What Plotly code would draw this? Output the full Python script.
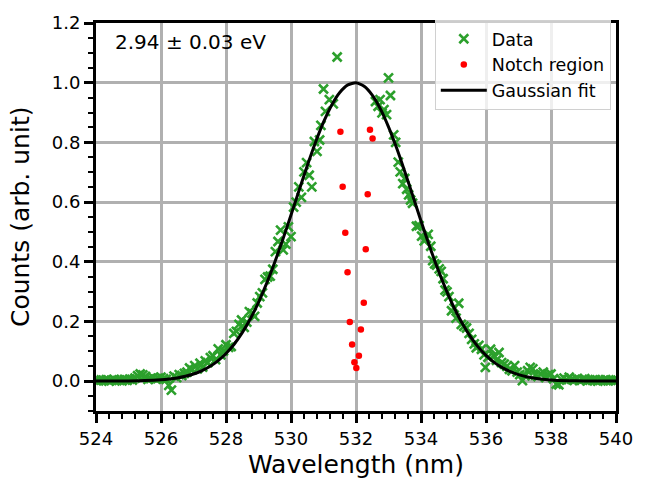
import plotly.graph_objects as go

# ---------------- data ----------------
data_wl = [
    524.00, 524.08, 524.16, 524.24, 524.32, 524.40, 524.48, 524.56, 524.64, 524.72,
    524.80, 524.88, 524.96, 525.04, 525.12, 525.20, 525.28, 525.36, 525.44, 525.52,
    525.60, 525.68, 525.76, 525.84, 525.92, 526.00, 526.08, 526.16, 526.24, 526.32,
    526.40, 526.48, 526.56, 526.64, 526.72, 526.80, 526.88, 526.96, 527.04, 527.12,
    527.20, 527.28, 527.36, 527.44, 527.52, 527.60, 527.68, 527.76, 527.84, 527.92,
    528.00, 528.08, 528.16, 528.24, 528.32, 528.40, 528.48, 528.56, 528.64, 528.72,
    528.80, 528.88, 528.96, 529.04, 529.12, 529.20, 529.28, 529.36, 529.44, 529.52,
    529.60, 529.68, 529.76, 529.84, 529.92, 530.00, 530.08, 530.16, 530.24, 530.32,
    530.40, 530.48, 530.56, 530.64, 530.72, 530.80, 530.88, 530.92, 531.00, 531.06,
    531.18, 531.30, 531.42,
    532.60, 532.68, 532.74, 532.80, 532.86, 532.94, 533.00, 533.06, 533.16, 533.22,
    533.30, 533.36, 533.44, 533.50, 533.56, 533.62, 533.68, 533.74, 533.86, 533.94,
    534.02, 534.10, 534.16, 534.22, 534.30, 534.36, 534.42, 534.48, 534.56, 534.62,
    534.68, 534.74, 534.80, 534.86, 534.94, 535.02, 535.08, 535.16, 535.24, 535.32,
    535.40, 535.48, 535.56, 535.64, 535.70, 535.78, 535.86, 535.94, 535.98, 536.06,
    536.14, 536.24, 536.32, 536.40, 536.48, 536.56, 536.64, 536.72, 536.80, 536.88,
    536.96, 537.04, 537.12, 537.20, 537.28, 537.36, 537.44, 537.52, 537.60, 537.68,
    537.76, 537.84, 537.92, 538.00, 538.08, 538.16, 538.24, 538.32, 538.40, 538.48,
    538.56, 538.64, 538.72, 538.80, 538.88, 538.96, 539.04, 539.12, 539.20, 539.28,
    539.36, 539.44, 539.52, 539.60, 539.68, 539.76, 539.84, 539.92, 540.00,
]
data_counts = [
    0.003, 0.001, 0.004, 0.002, 0.005, 0.000, 0.003, 0.006, 0.002, 0.004,
    0.001, 0.006, 0.003, 0.007, 0.004, 0.010, 0.018, 0.024, 0.021, 0.016,
    0.006, 0.009, 0.012, 0.007, 0.010, 0.013, 0.008, 0.006, -0.014, -0.030,
    0.017, 0.012, 0.022, 0.019, 0.026, 0.030, 0.044, 0.038, 0.052, 0.041,
    0.060, 0.047, 0.068, 0.062, 0.079, 0.085, 0.072, 0.108, 0.088, 0.101,
    0.122, 0.113, 0.116, 0.160, 0.167, 0.190, 0.205, 0.180, 0.198, 0.233,
    0.228, 0.217, 0.262, 0.283, 0.296, 0.341, 0.349, 0.352, 0.375, 0.434,
    0.468, 0.506, 0.440, 0.459, 0.517, 0.484, 0.583, 0.600, 0.651, 0.616,
    0.701, 0.732, 0.690, 0.651, 0.803, 0.770, 0.808, 0.857, 0.979, 0.904,
    0.943, 0.929, 1.086,
    0.937, 0.921, 0.943, 0.899, 0.910, 0.893, 1.016, 0.957, 0.825, 0.800,
    0.734, 0.701, 0.662, 0.679, 0.643, 0.624, 0.607, 0.596, 0.519, 0.521,
    0.486, 0.470, 0.478, 0.492, 0.452, 0.404, 0.393, 0.389, 0.376, 0.368,
    0.343, 0.305, 0.299, 0.283, 0.236, 0.245, 0.211, 0.261, 0.190, 0.184,
    0.178, 0.160, 0.140, 0.125, 0.112, 0.120, 0.107, 0.088, 0.046, 0.080,
    0.107, 0.085, 0.070, 0.096, 0.062, 0.057, 0.050, 0.040, 0.035, 0.052,
    0.030, 0.022, 0.002, 0.018, 0.035, 0.046, 0.041, 0.020, 0.015, 0.024,
    0.030, 0.012, 0.022, 0.024, 0.008, -0.010, -0.012, 0.005, 0.010, 0.004,
    0.013, 0.006, 0.003, 0.008, 0.002, 0.006, 0.008, 0.001, 0.004, 0.003,
    0.005, 0.000, 0.004, 0.002, 0.005, 0.001, 0.003, 0.002, 0.004,
]

notch_wl = [531.52, 531.59, 531.67, 531.74, 531.81, 531.88, 531.95, 532.01,
            532.09, 532.15, 532.24, 532.30, 532.36, 532.43, 532.51]
notch_counts = [0.836, 0.651, 0.497, 0.365, 0.198, 0.123, 0.063, 0.044,
                0.085, 0.173, 0.263, 0.442, 0.626, 0.842, 0.813]

fit_wl = [524.0, 524.5, 525.0, 525.5, 526.0, 526.25, 526.5, 526.75, 527.0, 527.25,
          527.5, 527.75, 528.0, 528.25, 528.5, 528.75, 529.0, 529.25, 529.5, 529.75,
          530.0, 530.25, 530.5, 530.75, 531.0, 531.25, 531.5, 531.75, 532.0, 532.25,
          532.5, 532.75, 533.0, 533.25, 533.5, 533.75, 534.0, 534.25, 534.5, 534.75,
          535.0, 535.25, 535.5, 535.75, 536.0, 536.25, 536.5, 536.75, 537.0, 537.25,
          537.5, 538.0, 538.5, 539.0, 539.5, 540.0]
fit_counts = [0.0001, 0.0002, 0.0007, 0.0018, 0.0046, 0.0072, 0.0109, 0.0164, 0.0240, 0.0346,
              0.0490, 0.0680, 0.0927, 0.1238, 0.1624, 0.2090, 0.2641, 0.3274, 0.3982, 0.4753,
              0.5567, 0.6398, 0.7216, 0.7988, 0.8676, 0.9247, 0.9672, 0.9927, 0.9999, 0.9882,
              0.9585, 0.9123, 0.8520, 0.7809, 0.7024, 0.6199, 0.5369, 0.4563, 0.3805, 0.3115,
              0.2501, 0.1971, 0.1524, 0.1157, 0.0862, 0.0630, 0.0452, 0.0318, 0.0219, 0.0149,
              0.0099, 0.0041, 0.0016, 0.0006, 0.0002, 0.0001]

x_ticks = [524, 526, 528, 530, 532, 534, 536, 538, 540]
y_ticks = [0.0, 0.2, 0.4, 0.6, 0.8, 1.0, 1.2]
energy_label = "2.94 ± 0.03 eV"
x_title = "Wavelength (nm)"
y_title = "Counts (arb. unit)"

FONT = "DejaVu Sans"

fig = go.Figure()
fig.add_trace(go.Scatter(
    x=data_wl, y=data_counts, mode="markers", name="Data",
    marker=dict(symbol="x-thin", size=9, color="#2ca02c",
                line=dict(color="#2ca02c", width=2.6)),
))
fig.add_trace(go.Scatter(
    x=notch_wl, y=notch_counts, mode="markers", name="Notch region",
    marker=dict(symbol="circle", size=6.5, color="#ff0000"),
))
fig.add_trace(go.Scatter(
    x=fit_wl, y=fit_counts, mode="lines", name="Gaussian fit",
    line=dict(color="black", width=3, shape="spline", smoothing=0.6),
))

fig.add_annotation(
    text=energy_label, xref="paper", yref="paper", x=0.032, y=0.95,
    xanchor="left", yanchor="middle", showarrow=False,
    font=dict(family=FONT, size=20, color="black"),
)
# axis titles
fig.add_annotation(
    text=x_title, xref="paper", yref="paper", x=0.5, y=-0.138,
    xanchor="center", yanchor="middle", showarrow=False,
    font=dict(family=FONT, size=25, color="black"),
)
fig.add_annotation(
    text=y_title, xref="paper", yref="paper", x=-0.146, y=0.5,
    xanchor="center", yanchor="middle", showarrow=False, textangle=-90,
    font=dict(family=FONT, size=25, color="black"),
)

axis_common = dict(
    showline=True, linecolor="black", linewidth=3, mirror=True,
    ticks="outside", ticklen=9, tickwidth=3, tickcolor="black",
    showgrid=True, gridcolor="#b0b0b0", gridwidth=2.5,
    zeroline=False,
    tickfont=dict(family=FONT, size=18, color="black"),
)

fig.update_xaxes(
    **axis_common,
    range=[524, 540], tickmode="array", tickvals=x_ticks,
    ticktext=[str(v) for v in x_ticks],
    minor=dict(dtick=0.4, tick0=524, ticks="outside", ticklen=5, tickwidth=2,
               tickcolor="black", showgrid=False),
)
fig.update_yaxes(
    **axis_common,
    range=[-0.1, 1.2], tickmode="array", tickvals=y_ticks,
    ticktext=[f"{v:.1f}" for v in y_ticks],
    minor=dict(dtick=0.05, tick0=0, ticks="outside", ticklen=5, tickwidth=2,
               tickcolor="black", showgrid=False),
)

fig.update_layout(
    width=645, height=484,
    margin=dict(l=96, r=23, t=17, b=73, pad=0),
    paper_bgcolor="white", plot_bgcolor="white",
    font=dict(family=FONT, color="black"),
    showlegend=True,
    legend=dict(
        x=0.99, y=1.008, xanchor="right", yanchor="top",
        bgcolor="rgba(255,255,255,0.8)", bordercolor="#d0d0d0", borderwidth=1,
        font=dict(family=FONT, size=17.5, color="black"),
        itemwidth=46, tracegroupgap=0,
    ),
)

fig.write_html("out.html")
